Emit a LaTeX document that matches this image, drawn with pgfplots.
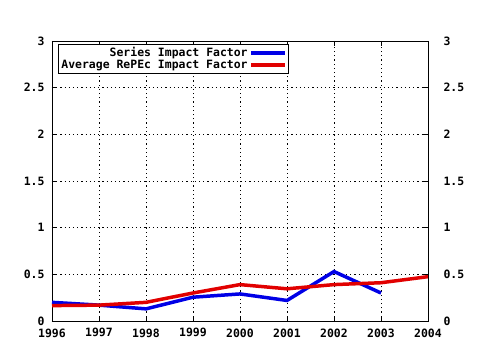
\documentclass[border=0pt]{standalone}
\usepackage{pgfplots}
\pgfplotsset{compat=1.18}
\usepackage{fontspec}
\setmainfont{DejaVu Sans Mono}[BoldFont={DejaVu Sans Mono Bold}]
\definecolor{sblue}{RGB}{0,0,230}
\definecolor{sred}{RGB}{225,0,0}
\begin{document}
\begin{tikzpicture}
\pgfplotsset{
  common/.style={
    scale only axis, width=376bp, height=280bp,
    xmin=1996, xmax=2004, ymin=0, ymax=3,
    xtick={1996,...,2004},
    ytick={0,0.5,1,1.5,2,2.5,3},
    yticklabels={0,0.5,1,1.5,2,2.5,3},
    xticklabels={1996,1997,1998,1999,2000,2001,2002,2003,2004},
    tick label style={font=\fontsize{11.5}{13}\selectfont\bfseries},
    major tick length=5bp, minor tick length=3bp,
    tick style={black, line width=0.8pt},
    axis line style={line width=0.8pt},
  }
}
\begin{axis}[common,
  minor x tick num=3,
  grid=major, grid style={black, dash pattern=on 1.2bp off 3bp, line width=0.8pt},
  tick align=inside,
  xtick pos=both, ytick pos=left,
  xticklabel pos=bottom,
  xticklabel style={yshift=-4bp},
  yticklabel style={xshift=-4bp},
  legend style={draw=black, line width=0.8pt,
    font=\fontsize{11.5}{12}\selectfont\bfseries, inner sep=1bp, row sep=-2bp,
    /tikz/every even column/.append style={column sep=4bp}},
  legend cell align=right,
  legend plot pos=right,
  legend image code/.code={\draw[#1, line width=3.5pt] (0bp,0bp) -- (34bp,0bp);},
  every axis legend/.append style={at={(axis description cs:0.016,0.989)}, anchor=north west},
]
\addplot[sblue, line width=3.5pt] coordinates {
(1996,0.20) (1997,0.17) (1998,0.13) (1999,0.255) (2000,0.29) (2001,0.22) (2002,0.53) (2003,0.30)};
\addlegendentry{Series Impact Factor}
\addplot[sred, line width=3.5pt] coordinates {
(1996,0.165) (1997,0.17) (1998,0.20) (1999,0.30) (2000,0.39) (2001,0.345) (2002,0.39) (2003,0.41) (2004,0.475)};
\addlegendentry{Average RePEc Impact Factor}
\end{axis}
\begin{axis}[common,
  axis x line=none, axis y line*=right,
  tick align=inside,
  yticklabel style={xshift=12bp},
]
\addplot[draw=none] coordinates {(1996,0)};
\end{axis}
\pgfresetboundingbox
\path[use as bounding box] (-52bp,-29bp) rectangle (428bp,321bp);
\end{tikzpicture}
\end{document}
